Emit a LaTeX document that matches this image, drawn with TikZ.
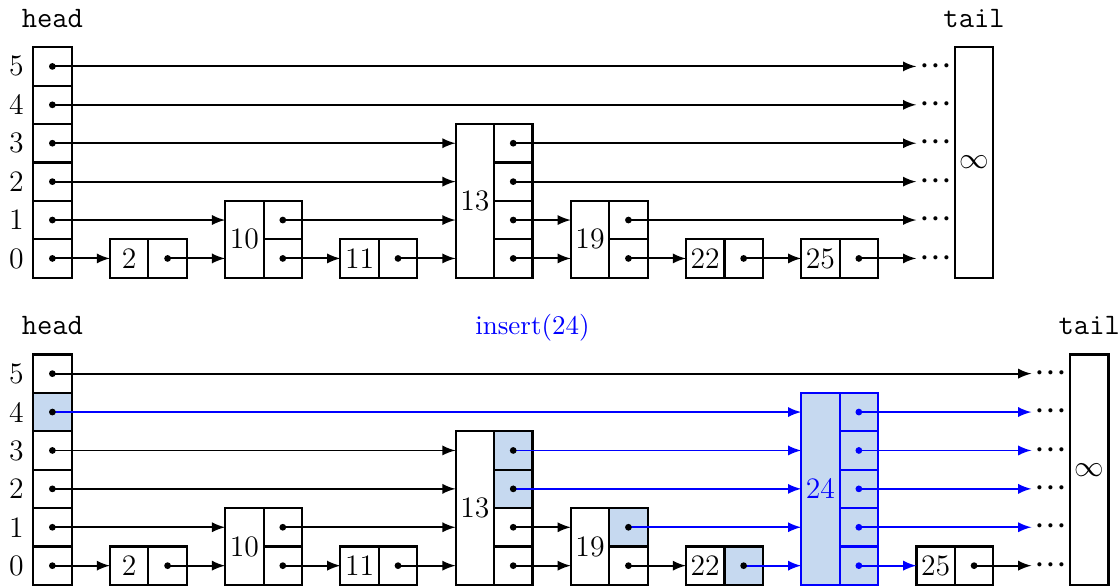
\documentclass[tikz,border=0pt]{standalone}
\definecolor{hlfill}{RGB}{198,217,240}
\newcommand\elevenpt{\fontsize{11}{13.6}\selectfont}
\begin{document}
\begin{tikzpicture}[x=0.5cm,y=0.5cm,
  cell/.style={draw, thick, minimum width=0.5cm, minimum height=0.5cm, inner sep=0pt, outer sep=0pt, anchor=south west, font=\elevenpt},
  hl/.style={fill=hlfill},
  newn/.style={draw=blue, fill=hlfill, text=blue},
  link/.style={line width=0.7pt, -latex},
  newlink/.style={line width=0.7pt, -latex, blue},
  ptdot/.style={circle, fill, inner sep=0pt, minimum size=2.5pt},
  etc/.style={inner xsep=1pt, inner ysep=0pt, font=\Large},
  tag/.style={anchor=base, font=\elevenpt\ttfamily},
  every label/.style={font=\elevenpt},
]
\useasboundingbox (-0.864,-8.04) rectangle (28.30,7.23);

% ---------------- top list ----------------
\foreach \l in {0,...,5}
  \node[cell, label={left:\l}] (aPH-\l) at (0,\l) {};
\node[tag] (ahead) at (0.5,6.52) {head};
\foreach \k/\x/\t in {2/2/0,10/5/1,11/8/0,13/11/3,19/14/1,22/17/0,25/20/0}{
  \node[cell, minimum height={(\t+1)*0.5cm}] (aK\k) at (\x,0) {\k};
  \foreach \l in {0,...,\t}
    \node[cell] (aP\k-\l) at (\x+1,\l) {};
}
\foreach \l in {0,...,5}
  \node[etc] (aE\l) at (23.5,\l+0.5) {${\cdot}{\cdot}{\cdot}$};
\node[cell, minimum height=3cm] (atail) at (24,0) {$\infty$};
\node[tag] (atl) at (24.5,6.52) {tail};

\foreach \f/\t/\l in {H/aK2/0, 2/aK10/0, 10/aK11/0, 11/aK13/0, 13/aK19/0, 19/aK22/0, 22/aK25/0, 25/aE0/0,
                      H/aK10/1, 10/aK13/1, 13/aK19/1, 19/aE1/1,
                      H/aK13/2, 13/aE2/2, H/aK13/3, 13/aE3/3, H/aE4/4, H/aE5/5}
  \draw[link] (aP\f-\l.center) -- (\t.west |- aP\f-\l.center);

\foreach \f/\t in {H/5, 2/0, 10/1, 11/0, 13/3, 19/1, 22/0, 25/0}
  \foreach \l in {0,...,\t}
    \node[ptdot] (aD\f-\l) at (aP\f-\l.center) {};

% ---------------- bottom list ----------------
\begin{scope}[yshift=-4cm]
\foreach \l/\s in {0/,1/,2/,3/,4/hl,5/}
  \node[cell, \s, label={left:\l}] (bPH-\l) at (0,\l) {};
\node[tag] (bhead) at (0.5,6.52) {head};
\node[anchor=base, text=blue] (ins) at (13,6.52) {insert(24)};
\foreach \k/\x/\t in {2/2/0,10/5/1,11/8/0,13/11/3,19/14/1,22/17/0,25/23/0}
  \node[cell, minimum height={(\t+1)*0.5cm}] (bK\k) at (\x,0) {\k};
\foreach \k/\x/\l/\s in {2/3/0/, 10/6/0/, 10/6/1/, 11/9/0/, 13/12/0/, 13/12/1/, 13/12/2/hl, 13/12/3/hl,
                         19/15/0/, 19/15/1/hl, 22/18/0/hl, 25/24/0/}
  \node[cell, \s] (bP\k-\l) at (\x,\l) {};
\node[cell, newn, minimum height=2.5cm] (bK24) at (20,0) {24};
\foreach \l in {0,...,4}
  \node[cell, newn] (bP24-\l) at (21,\l) {};
\foreach \l in {0,...,5}
  \node[etc] (bE\l) at (26.5,\l+0.5) {${\cdot}{\cdot}{\cdot}$};
\node[cell, minimum height=3cm] (btail) at (27,0) {$\infty$};
\node[tag] (btl) at (27.5,6.52) {tail};

\foreach \f/\t/\l in {H/bK2/0, 2/bK10/0, 10/bK11/0, 11/bK13/0, 13/bK19/0, 19/bK22/0, 25/bE0/0,
                      H/bK10/1, 10/bK13/1, 13/bK19/1, H/bK13/2, H/bK13/3, H/bE5/5}
  \draw[link] (bP\f-\l.center) -- (\t.west |- bP\f-\l.center);
\foreach \f/\t/\l in {22/bK24/0, 24/bK25/0, 19/bK24/1, 24/bE1/1, 13/bK24/2, 24/bE2/2,
                      13/bK24/3, 24/bE3/3, H/bK24/4, 24/bE4/4}
  \draw[newlink] (bP\f-\l.center) -- (\t.west |- bP\f-\l.center);

\foreach \f/\t in {H/5, 2/0, 10/1, 11/0, 13/3, 19/1, 22/0, 25/0}
  \foreach \l in {0,...,\t}
    \node[ptdot] (bD\f-\l) at (bP\f-\l.center) {};
\foreach \l in {0,...,4}
  \node[ptdot, blue] (bD24-\l) at (bP24-\l.center) {};
\end{scope}
\end{tikzpicture}
\end{document}
